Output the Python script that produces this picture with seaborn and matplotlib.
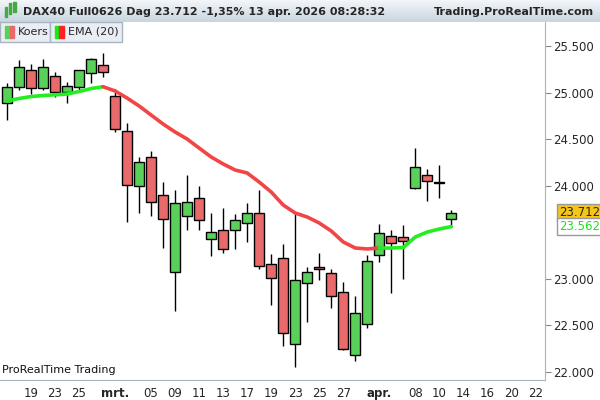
import matplotlib
matplotlib.use("Agg")
import matplotlib.pyplot as plt
import seaborn as sns
import numpy as np
import pandas as pd
from matplotlib.patches import Rectangle

opens  = [24890,25058,25241,25048,25176,25005,25058,25209,25298,24962,24586,23995,24306,23898,23071,23673,23866,23426,23522,23522,23598,23705,23157,23222,22298,22953,23125,23060,22856,22180,22513,23254,23464,23447,23974,24113,24030,23640]
highs  = [25105,25352,25309,25360,25226,25118,25245,25376,25424,25037,24672,24313,24374,24038,23952,24113,24000,23705,23759,23697,23812,23955,23268,23375,23694,23125,23278,23107,22964,22817,23257,23590,23526,23580,24410,24178,24225,23745]
lows   = [24705,25029,24986,25029,24957,24893,25029,25101,25166,24581,23608,23711,23679,23336,22659,23522,23526,23250,23282,23325,23400,23110,22723,22283,22057,22541,22988,22691,22240,22122,22476,23185,22845,23002,23970,23840,23872,23580]
closes = [25065,25273,25048,25273,25005,25069,25241,25359,25219,24607,24009,24253,23823,23640,23812,23823,23630,23501,23318,23630,23705,23136,23007,22416,22985,23071,23103,22813,22244,22631,23189,23490,23383,23404,24199,24049,24035,23712]
ema    = [24911,24938,24959,24970,24978,24986,25013,25045,25065,25019,24943,24858,24761,24664,24578,24503,24406,24310,24235,24170,24138,24041,23934,23794,23708,23665,23601,23515,23397,23332,23322,23332,23332,23338,23450,23504,23536,23562]
tick_pos = [2,4,6,9,12,14,16,18,20,22,24,26,28,31,34,36,38,40,42,44]
tick_labels = ["19","23","25","mrt.","05","09","11","13","17","19","23","25","27","apr.","08","10","14","16","20","22"]
y_ticks = [22000,22500,23000,24000,24500,25000,25500]

sns.set_style("white")
plt.rcParams['font.family'] = ['DejaVu Sans']

fig = plt.figure(figsize=(6,4), dpi=100)
ax = fig.add_axes([0, 0.05, 545/600, 0.895])
idx = np.arange(len(opens))
GREEN = "#5ad05a"; RED = "#e96a6a"
for i in idx:
    o, h, l, c = opens[i], highs[i], lows[i], closes[i]
    col = GREEN if c >= o else RED
    ax.vlines(i, l, h, color="black", lw=1, zorder=2)
    b = min(o, c); hgt = max(abs(c-o), 8)
    ax.add_patch(Rectangle((i-0.42, b), 0.84, hgt, facecolor=col, edgecolor="black", lw=1, zorder=3))

df = pd.DataFrame({"i": idx, "ema": ema})
seg_g1 = df.iloc[:9]; seg_r = df.iloc[8:32]; seg_g2 = df.iloc[31:]
for seg, col in [(seg_g1, "#22ee22"), (seg_r, "#f24545"), (seg_g2, "#22ee22")]:
    sns.lineplot(data=seg, x="i", y="ema", color=col, lw=2.6, ax=ax, zorder=4)

ax.set_xlim(-0.58, 44.8)
ax.set_ylim(21914, 25760)
ax.yaxis.tick_right()
ax.set_yticks(y_ticks)
ax.set_yticklabels([f"{v/1000:.3f}" for v in y_ticks], fontsize=8.5)
ax.set_xticks(tick_pos)
ax.set_xticklabels(tick_labels, fontsize=8.5)
for t in ax.get_xticklabels():
    if t.get_text() in ("mrt.", "apr."):
        t.set_fontweight("bold")
ax.set_xticks(np.arange(0, 45), minor=True)
ax.tick_params(axis="x", which="both", length=3, direction="out", pad=2, color="#aaaaaa")
ax.tick_params(axis="y", length=4, direction="out", pad=2, color="#888888")
ax.set_xlabel(""); ax.set_ylabel("")
for s in ["top", "left"]:
    ax.spines[s].set_visible(False)
ax.spines["right"].set_color("#aab4be")
ax.spines["bottom"].set_color("#aab4be")

ax.text(0.003, 0.02, "ProRealTime Trading", transform=ax.transAxes, fontsize=8, color="#111111")

# price labels
ax.text(1.025, (23712-21914)/(25760-21914), "23.712", transform=ax.transAxes, fontsize=8.5, va="center",
        bbox=dict(boxstyle="square,pad=0.15", fc="#f5c518", ec="#999999"))
ax.text(1.025, (23562-21914)/(25760-21914), "23.562", transform=ax.transAxes, fontsize=8.5, va="center", color="#22dd22",
        bbox=dict(boxstyle="square,pad=0.15", fc="white", ec="#999999"))

# header
hdr = fig.add_axes([0, 0.945, 1, 0.055])
hdr.imshow(np.linspace(0, 1, 20).reshape(-1, 1), aspect="auto", cmap=matplotlib.colors.LinearSegmentedColormap.from_list("h", ["#f2f6f9", "#c9d6e0"]), extent=[0, 1, 0, 1])
hdr.set_xlim(0, 1); hdr.set_ylim(0, 1); hdr.axis("off")
hdr.text(0.038, 0.45, "DAX40 Full0626 Dag 23.712 -1,35% 13 apr. 2026 08:28:32", fontsize=8, fontweight="bold", va="center")
hdr.text(0.99, 0.45, "Trading.ProRealTime.com", fontsize=8, fontweight="bold", va="center", ha="right")
hdr.add_patch(Rectangle((0.008, 0.25), 0.004, 0.45, color="#44aa44"))
hdr.add_patch(Rectangle((0.015, 0.35), 0.004, 0.5, color="#44aa44"))
hdr.add_patch(Rectangle((0.022, 0.45), 0.004, 0.45, color="#44aa44"))

# legend tabs
def tab(x0, w, label, c1, c2):
    fig.patches.append(Rectangle((x0, 0.895), w, 0.05, transform=fig.transFigure, fc="#e8eef3", ec="#a8b4bf", lw=1))
    fig.patches.append(Rectangle((x0+0.008, 0.905), 0.008, 0.03, transform=fig.transFigure, color=c1))
    fig.patches.append(Rectangle((x0+0.016, 0.905), 0.008, 0.03, transform=fig.transFigure, color=c2))
    fig.text(x0+0.03, 0.92, label, fontsize=8, va="center")
tab(0.0, 0.083, "Koers", GREEN, RED)
tab(0.083, 0.12, "EMA (20)", "#11ee11", "#ff2222")

fig.savefig("out.png", dpi=100)
